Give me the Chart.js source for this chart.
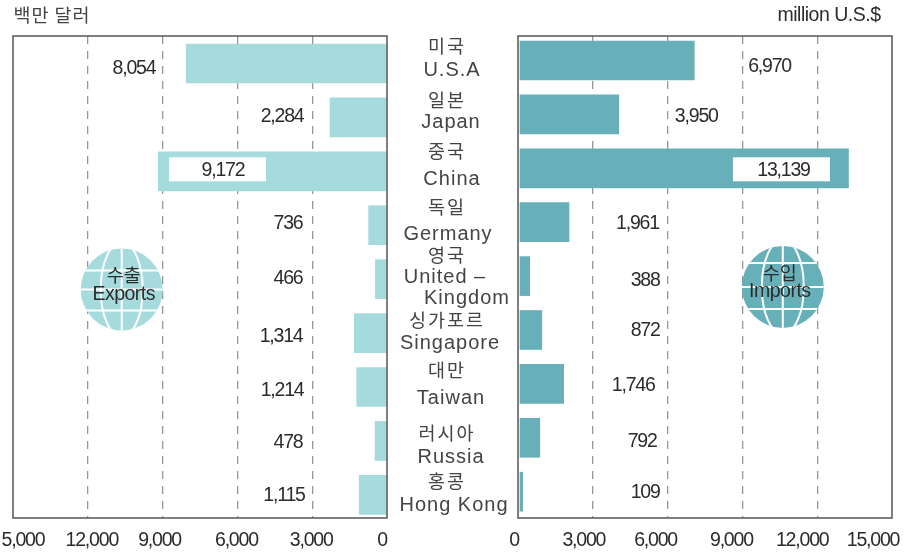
<!DOCTYPE html>
<html lang="ko">
<head>
<meta charset="UTF-8">
<title>Exports and Imports by Country</title>
<script src="https://cdn.jsdelivr.net/npm/chart.js"></script>
<style>
  html, body { margin: 0; padding: 0; background: #fff; overflow: hidden; }
  canvas { position: absolute; left: 0; top: 0; }
</style>
</head>
<body>
<canvas id="exportsChart" width="917" height="558"></canvas>
<canvas id="importsChart" width="917" height="558"></canvas>
<script>
// values, million U.S.$
const koreanNames = ['미국', '일본', '중국', '독일', '영국', '싱가포르', '대만', '러시아', '홍콩'];
const englishNames = ['U.S.A', 'Japan', 'China', 'Germany', 'United –', 'Kingdom', 'Singapore', 'Taiwan', 'Russia', 'Hong Kong'];
const exportsValues = [8054, 2284, 9172, 736, 466, 1314, 1214, 478, 1115];
const importsValues = [6970, 3950, 13139, 1961, 388, 872, 1746, 792, 109];
const exportTickLabels = ['0', '3,000', '6,000', '9,000', '12,000', '5,000'];
const importTickLabels = ['0', '3,000', '6,000', '9,000', '12,000', '15,000'];

// where the printed numbers sit, in axis units and rows
const exportLabelAt = [10150, 4210, 6580, 3970, 3970, 4250, 4210, 3970, 4130];
const exportLabelRow = [0.07, 0.97, 1.96, 2.96, 3.98, 5.05, 6.04, 7.02, 8.0];
const importLabelAt = [10090, 7150, 10650, 4790, 5100, 5100, 4620, 4980, 5100];
const importLabelRow = [0.1, 1.03, 2.03, 3.0, 4.07, 5.0, 6.02, 7.06, 8.0];

const INK = '#2b2b2b';
const SOFT = '#444';
const LIGHT = '#a6dbdd';
const DARK = '#67b0b9';
const NUM_FONT = '19.5px "Liberation Sans"';
const NAME_FONT = '20px "Liberation Sans"';
const KO_FONT = '18.5px "Noto Sans CJK KR"';

function text(ctx, s, x, y, font, spacing, color) {
  ctx.save();
  ctx.font = font;
  ctx.fillStyle = color || INK;
  ctx.textAlign = 'center';
  ctx.textBaseline = 'middle';
  ctx.letterSpacing = spacing + 'px';
  ctx.fillText(s, x, y);
  ctx.restore();
}

function drawGlobe(ctx, cx, cy, r, color, parallels) {
  ctx.save();
  ctx.beginPath();
  ctx.arc(cx, cy, r, 0, Math.PI * 2);
  ctx.fillStyle = color;
  ctx.fill();
  ctx.clip();
  ctx.strokeStyle = '#fff';
  ctx.lineWidth = 2;
  parallels.forEach(d => {
    ctx.beginPath();
    ctx.moveTo(cx - r, cy + d);
    ctx.lineTo(cx + r, cy + d);
    ctx.stroke();
  });
  ctx.beginPath();
  ctx.moveTo(cx, cy - r);
  ctx.lineTo(cx, cy + r);
  ctx.stroke();
  ctx.beginPath();
  ctx.ellipse(cx, cy, 21, r * 1.15, 0, 0, Math.PI * 2);
  ctx.stroke();
  ctx.restore();
}

function panelPlugin(cfg) {
  return {
    id: 'panel',
    afterDatasetsDraw(chart) {
      const ctx = chart.ctx;
      const a = chart.chartArea;
      const x = chart.scales.x;
      const y = chart.scales.y;

      // white plate behind the China figure
      ctx.fillStyle = '#fff';
      ctx.fillRect(x.getPixelForValue(cfg.plate[0]), y.getPixelForValue(2) - 14 + cfg.plateShift,
        x.getPixelForValue(cfg.plate[1]) - x.getPixelForValue(cfg.plate[0]), 24);

      const gx = x.getPixelForValue(cfg.globeAt);
      const gy = y.getPixelForValue(cfg.globeRow);
      drawGlobe(ctx, gx, gy, 41, cfg.color, cfg.parallels);
      text(ctx, cfg.globeKo, gx + cfg.globeTextShift, gy - 14, KO_FONT, 0);
      text(ctx, cfg.globeEn, gx + cfg.globeTextShift, gy + 5, NUM_FONT, -0.5);

      ctx.strokeStyle = '#555';
      ctx.lineWidth = 1.5;
      ctx.strokeRect(a.left, a.top, a.right - a.left, a.bottom - a.top);

      cfg.values.forEach((v, i) => {
        text(ctx, v.toLocaleString('en-US'), x.getPixelForValue(cfg.labelAt[i]), y.getPixelForValue(cfg.labelRow[i]) + 1, NUM_FONT, -1.2);
      });
      cfg.ticks.forEach((t, i) => {
        text(ctx, t, x.getPixelForValue(i * 3000) + cfg.tickNudge[i], 541, NUM_FONT, -1.2);
      });
      cfg.extra(ctx);
    }
  };
}

function gridColor(c) {
  return (c.tick && (c.tick.value === 0 || c.tick.value === 15000)) ? 'rgba(0,0,0,0)' : '#969696';
}

function baseScales(reverse, yMin, yMax) {
  return {
    x: {
      type: 'linear', min: 0, max: 15000, reverse: reverse,
      ticks: { display: false, stepSize: 3000 },
      border: { display: false, dash: [8, 7] },
      grid: { color: gridColor, lineWidth: 1.3, drawTicks: false }
    },
    y: { type: 'linear', offset: false, reverse: true, min: yMin, max: yMax, display: false }
  };
}

new Chart(document.getElementById('exportsChart'), {
  type: 'bar',
  data: {
    datasets: [{
      label: 'Exports',
      data: exportsValues.map((v, i) => ({ x: v, y: i })),
      backgroundColor: LIGHT,
      barThickness: 39
    }]
  },
  options: {
    responsive: false,
    animation: false,
    indexAxis: 'y',
    layout: { padding: { left: 13, right: 530, top: 36, bottom: 40 } },
    plugins: { legend: { display: false }, tooltip: { enabled: false } },
    scales: baseScales(true, -0.51, 8.43)
  },
  plugins: [panelPlugin({
    color: LIGHT, values: exportsValues, labelAt: exportLabelAt, labelRow: exportLabelRow,
    ticks: exportTickLabels, tickNudge: [-5, -1, -1, -3, 4, 10],
    plate: [8744, 4853], plateShift: 0,
    globeAt: 10640, globeRow: 4.19, globeKo: '수출', globeEn: 'Exports', globeTextShift: 2,
    parallels: [-19, 0, 21],
    extra(ctx) {
      text(ctx, '백만 달러', 52, 15, KO_FONT, 1, SOFT);
    }
  })]
});

new Chart(document.getElementById('importsChart'), {
  type: 'bar',
  data: {
    datasets: [{
      label: 'Imports',
      data: importsValues.map((v, i) => ({ x: v, y: i })),
      backgroundColor: DARK,
      barThickness: 39,
      xAxisID: 'xBars'
    }]
  },
  options: {
    responsive: false,
    animation: false,
    indexAxis: 'y',
    layout: { padding: { left: 518, right: 25, top: 36, bottom: 40 } },
    plugins: { legend: { display: false }, tooltip: { enabled: false } },
    scales: Object.assign(baseScales(false, -0.4545, 8.488), {
      // bars start a hair right of the frame, as printed
      xBars: { type: 'linear', axis: 'x', position: 'bottom', min: -80, max: 14880, display: false }
    })
  },
  plugins: [panelPlugin({
    color: DARK, values: importsValues, labelAt: importLabelAt, labelRow: importLabelRow,
    ticks: importTickLabels, tickNudge: [-4, -9, -12, -11, -15, -19],
    plate: [8620, 12510], plateShift: 3,
    globeAt: 10620, globeRow: 4.2, globeKo: '수입', globeEn: 'Imports', globeTextShift: -3,
    parallels: [-24, 0, 22],
    extra(ctx) {
      text(ctx, 'million U.S.$', 829, 16, NUM_FONT, -0.5);
      const koY = [46, 100, 151, 207, 255, 320, 370, 433, 481];
      const koX = [447, 447, 447, 447, 447, 447, 447, 447, 447];
      koreanNames.forEach((s, i) => text(ctx, s, koX[i], koY[i], KO_FONT, 2, SOFT));
      const enY = [70, 122, 179, 234, 277, 298, 343, 398, 457, 505];
      const enX = [452, 451, 452, 448, 445, 467, 450, 451, 451, 454];
      englishNames.forEach((s, i) => text(ctx, s, enX[i], enY[i], NAME_FONT, 1, SOFT));
    }
  })]
});
</script>
</body>
</html>
